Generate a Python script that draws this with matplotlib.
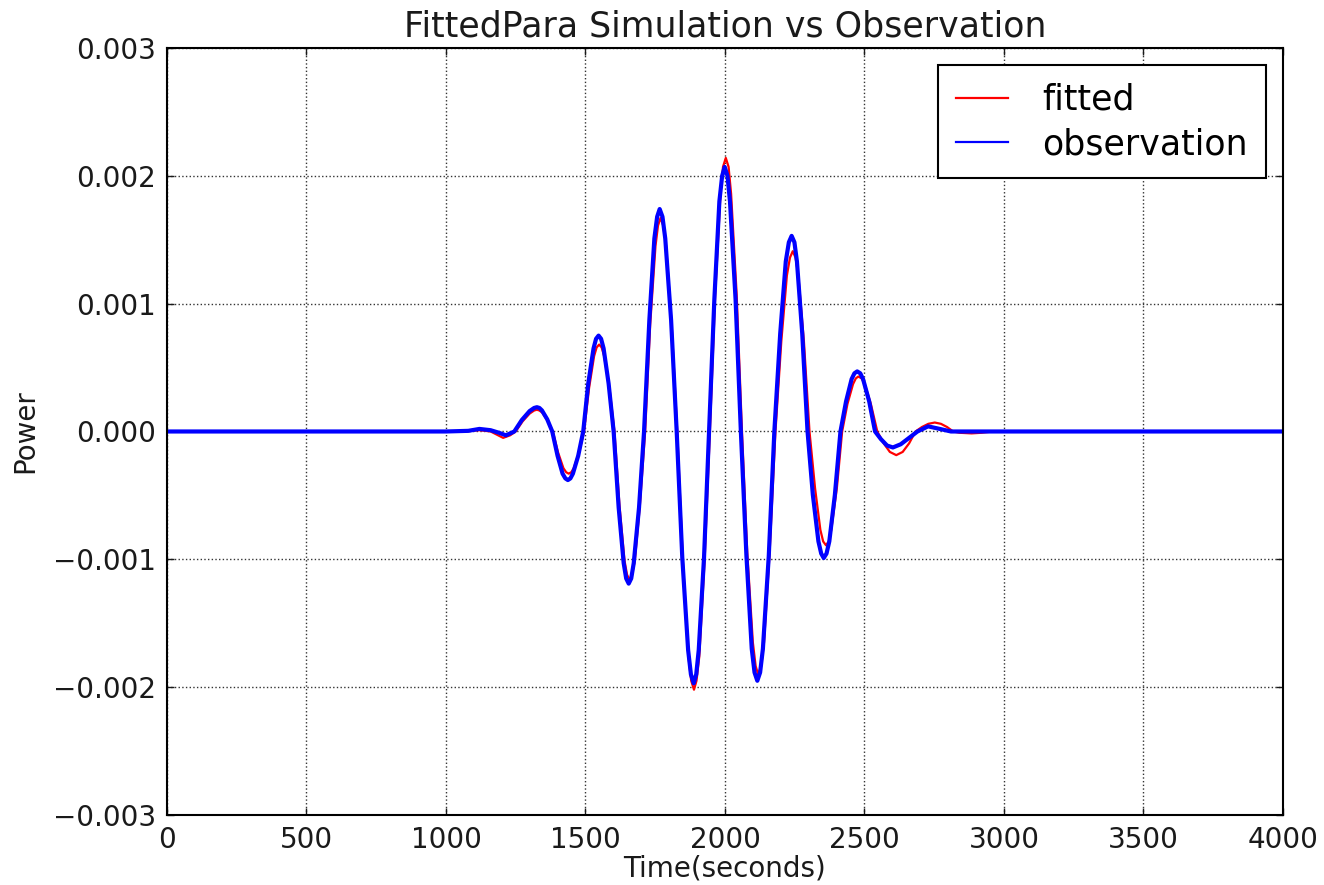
import numpy as np
import matplotlib
matplotlib.use('Agg')
import matplotlib.pyplot as plt
from matplotlib.ticker import FuncFormatter

# observation trace (time in seconds, power in units of 1e-3)
obs_t = [0, 1000, 1080, 1120, 1160, 1190, 1215, 1245, 1272, 1300,
         1316, 1326, 1335, 1344, 1363, 1381, 1400, 1418, 1428, 1437,
         1446, 1455, 1474, 1492, 1510, 1529, 1538, 1547, 1556, 1565,
         1583, 1601, 1619, 1637, 1646, 1655, 1664, 1673, 1692, 1710,
         1729, 1747, 1757, 1766, 1776, 1786, 1807, 1827, 1847, 1868,
         1878, 1888, 1897, 1906, 1925, 1943, 1962, 1980, 1990, 1999,
         2009, 2018, 2038, 2057, 2077, 2096, 2106, 2116, 2126, 2136,
         2157, 2177, 2198, 2218, 2229, 2239, 2249, 2258, 2277, 2296,
         2315, 2335, 2345, 2354, 2364, 2374, 2394, 2414, 2434, 2454,
         2464, 2474, 2485, 2495, 2517, 2538, 2559, 2581, 2602, 2630,
         2660, 2690, 2728, 2770, 2810, 4000]
obs_v = [0, 0, 0.005, 0.02, 0.01, -0.01, -0.03, 0, 0.09, 0.16,
         0.184, 0.19, 0.184, 0.165, 0.095, 0, -0.19, -0.33, -0.367, -0.38,
         -0.367, -0.33, -0.19, 0, 0.375, 0.65, 0.725, 0.75, 0.725, 0.65,
         0.375, 0, -0.595, -1.03, -1.15, -1.19, -1.15, -1.03, -0.595, 0,
         0.87, 1.51, 1.68, 1.74, 1.68, 1.51, 0.87, 0, -0.985, -1.71,
         -1.90, -1.97, -1.90, -1.71, -0.985, 0, 1.035, 1.80, 2.00, 2.07,
         2.00, 1.80, 1.035, 0, -0.975, -1.70, -1.885, -1.95, -1.885, -1.70,
         -0.975, 0, 0.765, 1.33, 1.48, 1.53, 1.48, 1.33, 0.765, 0,
         -0.495, -0.86, -0.955, -0.99, -0.955, -0.86, -0.495, 0, 0.235, 0.41,
         0.455, 0.47, 0.455, 0.41, 0.235, 0, -0.06, -0.11, -0.125, -0.10,
         -0.05, 0, 0.04, 0.02, 0, 0]

# fitted parameter simulation
fit_t = [0, 1000, 1080, 1120, 1160, 1205, 1230, 1250, 1275, 1300,
         1316, 1326, 1335, 1345, 1364, 1383, 1402, 1421, 1431, 1440,
         1449, 1458, 1477, 1495, 1513, 1531, 1540, 1549, 1558, 1567,
         1586, 1604, 1622, 1640, 1649, 1658, 1667, 1677, 1695, 1714,
         1732, 1751, 1760, 1769, 1779, 1789, 1809, 1829, 1849, 1869,
         1879, 1889, 1898, 1908, 1927, 1946, 1965, 1984, 1993, 2003,
         2013, 2022, 2042, 2061, 2080, 2100, 2110, 2119, 2130, 2140,
         2160, 2181, 2202, 2222, 2233, 2243, 2253, 2263, 2283, 2303,
         2323, 2342, 2352, 2362, 2372, 2381, 2401, 2420, 2439, 2459,
         2469, 2478, 2490, 2501, 2523, 2546, 2569, 2591, 2614, 2637,
         2660, 2683, 2706, 2729, 2752, 2774, 2796, 2818, 2840, 2884,
         2920, 2960, 4000]
fit_v = [0, 0, 0.003, 0.01, 0, -0.05, -0.03, 0, 0.08, 0.14,
         0.164, 0.17, 0.164, 0.148, 0.085, 0, -0.165, -0.287, -0.319, -0.33,
         -0.319, -0.287, -0.165, 0, 0.34, 0.59, 0.657, 0.68, 0.657, 0.59,
         0.34, 0, -0.58, -1.01, -1.12, -1.16, -1.12, -1.01, -0.58, 0,
         0.835, 1.45, 1.61, 1.67, 1.61, 1.45, 0.835, 0, -1.01, -1.76,
         -1.95, -2.02, -1.95, -1.76, -1.01, 0, 1.07, 1.86, 2.07, 2.14,
         2.07, 1.86, 1.07, 0, -0.95, -1.65, -1.835, -1.90, -1.835, -1.65,
         -0.95, 0, 0.705, 1.22, 1.36, 1.41, 1.36, 1.22, 0.705, 0,
         -0.445, -0.77, -0.86, -0.89, -0.86, -0.77, -0.445, 0, 0.215, 0.37,
         0.415, 0.43, 0.415, 0.37, 0.215, 0, -0.093, -0.16, -0.185, -0.16,
         -0.093, 0, 0.035, 0.06, 0.07, 0.06, 0.035, 0, -0.01, -0.015,
         -0.01, 0, 0]

xticks = [0, 500, 1000, 1500, 2000, 2500, 3000, 3500, 4000]
yticks = [-0.003, -0.002, -0.001, 0.0, 0.001, 0.002, 0.003]

plt.rcParams['font.family'] = 'DejaVu Sans'

fig = plt.figure(figsize=(13.24, 8.85), dpi=100)
ax = fig.add_axes([0.1261, 0.0791, 0.969 - 0.1261, 0.9458 - 0.0791])

ax.plot(fit_t, np.array(fit_v) * 1e-3, color='red', lw=1.6,
        solid_joinstyle='round', label='fitted')
ax.plot(obs_t, np.array(obs_v) * 1e-3, color='blue', lw=3.0,
        solid_joinstyle='round', label='observation')

ax.set_xlim(0, 4000)
ax.set_ylim(-0.003, 0.003)
ax.set_xticks(xticks)
ax.set_yticks(yticks)

def fmt(v, pos):
    s = '%.3f' % v
    if s == '-0.000':
        s = '0.000'
    return s.replace('-', '\u2212')

ax.yaxis.set_major_formatter(FuncFormatter(fmt))
ax.tick_params(direction='in', length=5, width=1, top=True, right=True,
               labelsize=20, pad=8, colors='#1a1a1a')
for sp in ax.spines.values():
    sp.set_linewidth(1.5)
ax.grid(True, color='#333333', linestyle=':', linewidth=1.0)

ax.set_title('FittedPara Simulation vs Observation', fontsize=25, pad=8, color='#1a1a1a')
ax.set_xlabel('Time(seconds)', fontsize=20, labelpad=0, color='#1a1a1a')
ax.set_ylabel('Power', fontsize=20, labelpad=10, color='#1a1a1a')

leg = ax.legend(loc='upper right', fontsize=25, fancybox=False, framealpha=1,
                edgecolor='black', handlelength=1.5, handletextpad=1.0,
                borderaxespad=0.5, labelspacing=0.3, borderpad=0.5)
leg.get_frame().set_linewidth(1.5)
for h in leg.get_lines():
    h.set_linewidth(1.6)

fig.savefig('out.png', dpi=100, facecolor='white')
